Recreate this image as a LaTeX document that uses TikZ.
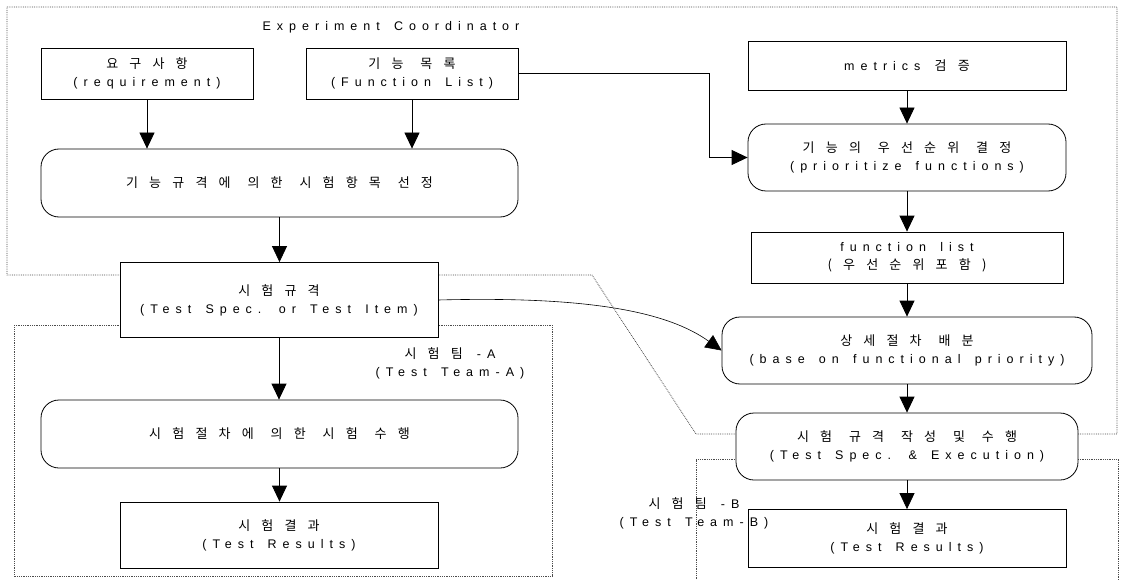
\documentclass[tikz,border=0pt]{standalone}
\usepackage{fontspec}
\setmainfont{Liberation Sans}[LetterSpace=48, WordSpace=1.5]
\newfontfamily\kofont{Noto Sans CJK KR}[LetterSpace=86, WordSpace=1.2]
\newcommand{\ko}[1]{{\fontsize{13}{18}\kofont #1}}
\usetikzlibrary{arrows.meta,backgrounds}

\begin{document}
\begin{tikzpicture}[x=1pt, y=-1pt,
    font=\fontsize{12.5}{18}\selectfont,
    box/.style={draw, line width=0.8pt, fill=white, align=center, inner sep=0pt},
    roundbox/.style={box, rounded corners=18pt},
    arr/.style={-{Triangle[length=16pt, width=15pt]}, line width=0.8pt},
    region/.style={densely dotted, line width=0.8pt, gray!60!black}]
    \useasboundingbox (0,0) rectangle (1123,580);

    % left column
    \node[box, minimum width=212pt, minimum height=51pt] (req) at (147,73.5) {\ko{요구사항}\\(requirement)};
    \node[box, minimum width=212pt, minimum height=51pt] (flist) at (412,73.5) {\ko{기능 목록}\\(Function List)};
    \node[roundbox, minimum width=477pt, minimum height=68pt] (select) at (279.5,183) {\ko{기능규격에 의한 시험항목 선정}};
    \node[box, minimum width=318pt, minimum height=75pt] (spec) at (279,300) {\ko{시험규격}\\(Test Spec. or Test Item)};
    \node[roundbox, minimum width=477pt, minimum height=68pt] (run) at (279.5,434) {\ko{시험절차에 의한 시험 수행}};
    \node[box, minimum width=318pt, minimum height=66pt] (resA) at (279,535) {\ko{시험결과}\\(Test Results)};

    % right column
    \node[box, minimum width=318pt, minimum height=49pt] (metric) at (907,65.5) {metrics \ko{검증}};
    \node[roundbox, minimum width=318pt, minimum height=67pt] (prio) at (907,157.5) {\ko{기능의 우선순위 결정}\\(prioritize functions)};
    \node[box, minimum width=312pt, minimum height=51pt] (flist2) at (907,257.5) {function list\\\ko{(우선순위포함)}};
    \node[roundbox, minimum width=370pt, minimum height=67pt] (dist) at (907,350.5) {\ko{상세절차 배분}\\(base on functional priority)};
    \node[roundbox, minimum width=342pt, minimum height=67pt] (exec) at (907,446.5) {\ko{시험 규격 작성 및 수행}\\(Test Spec. \& Execution)};
    \node[box, minimum width=318pt, minimum height=58pt] (resB) at (907,538.5) {\ko{시험결과}\\(Test Results)};

    % labels
    \node (coord) at (391,27) {Experiment Coordinator};
    \node[align=center] (teamA) at (450,363) {\ko{시험팀} -A\\(Test Team-A)};
    \node[align=center] (teamB) at (694,513) {\ko{시험팀} -B\\(Test Team-B)};

    % arrows
    \draw[arr] (req.south) -- (req.south |- select.north);
    \draw[arr] (flist.south) -- (flist.south |- select.north);
    \draw[arr] (select.south) -- (select.south |- spec.north);
    \draw[arr] (spec.south) -- (spec.south |- run.north);
    \draw[arr] (run.south) -- (run.south |- resA.north);
    \draw[arr] (flist.east) -- ++(191,0) |- (prio.west);
    \draw[arr] (metric) -- (prio);
    \draw[arr] (prio) -- (flist2);
    \draw[arr] (flist2) -- (dist);
    \draw[arr] (dist) -- (exec);
    \draw[arr] (exec) -- (resB);
    \draw[arr, line width=0.6pt] (spec.east) .. controls (590,296) and (668,312) .. (dist.west);

    % dotted regions
    \begin{scope}[on background layer]
        \fill[white] (0,0) rectangle (1123,580);
        \draw[region] (7,7) -- (1117,7) -- (1117,434) -- (696,434) -- (592,275) -- (7,275) -- cycle;
        \draw[region] (14,325) -- (552,325) -- (552,576) -- (14,576) -- cycle;
        \draw[region] (696,590) -- (696,459) -- (1118,459) -- (1118,590);
    \end{scope}
\end{tikzpicture}
\end{document}
